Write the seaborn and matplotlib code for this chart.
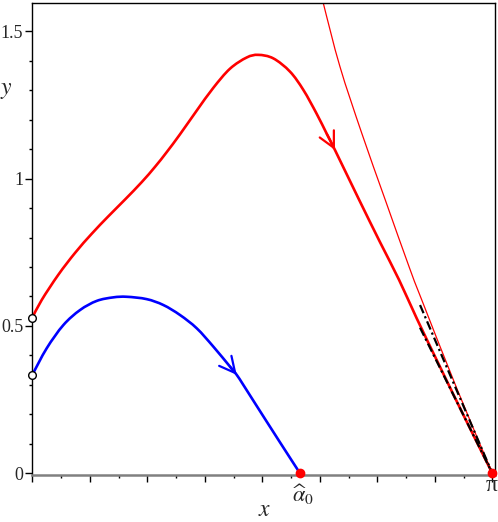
import numpy as np
import pandas as pd
import matplotlib
matplotlib.use("Agg")
import matplotlib.pyplot as plt
from matplotlib.path import Path
from matplotlib.patches import PathPatch
import seaborn as sns

# ---- data ----
blue_x = [0.000, 0.098, 0.212, 0.326, 0.440, 0.553, 0.645, 0.781, 0.895, 1.009,
          1.123, 1.236, 1.350, 1.396, 1.441, 1.528, 1.676, 1.828]
blue_y = [0.334, 0.424, 0.503, 0.554, 0.585, 0.597, 0.599, 0.591, 0.571, 0.537,
          0.492, 0.430, 0.362, 0.334, 0.300, 0.232, 0.117, 0.000]

red_x = [0.000, 0.064, 0.178, 0.292, 0.406, 0.519, 0.633, 0.747, 0.838, 0.918,
         1.008, 1.123, 1.236, 1.350, 1.464, 1.543, 1.646, 1.760, 1.851, 1.942,
         2.011, 2.067, 2.230, 2.374, 2.505, 2.625, 2.800, 2.950, np.pi]
red_y = [0.528, 0.588, 0.674, 0.748, 0.813, 0.872, 0.929, 0.988, 1.040, 1.090,
         1.150, 1.231, 1.308, 1.373, 1.411, 1.420, 1.408, 1.363, 1.301, 1.220,
         1.152, 1.097, 0.930, 0.785, 0.656, 0.526, 0.345, 0.192, 0.000]

thin_x = [1.951, 1.987, 2.101, 2.250, 2.411, 2.573, 2.660, 2.903, np.pi]
thin_y = [1.674, 1.596, 1.380, 1.154, 0.927, 0.701, 0.588, 0.283, 0.000]

black1_x = [2.648, np.pi]
black1_y = [0.571, 0.000]
black2_x = [2.648, np.pi]
black2_y = [0.494, 0.000]

open_x = [0.0, 0.0]
open_y = [0.528, 0.334]
dot_x = [1.828, np.pi]
dot_y = [0.0, 0.0]

# arrow (tail, tip) pairs on curves
blue_arrow = [(1.350, 0.362), (1.396, 0.334)]
red_arrow = [(2.011, 1.152), (2.067, 1.097)]

alpha_label = r"$\widehat{\alpha}_0$"
pi_label = "π"
ytick_vals = [0, 0.5, 1, 1.5]
ytick_labels = ["0", "0.5", "1", "1.5"]

# ---- styling ----
sns.set_style("ticks")
plt.rcParams["font.family"] = ["Liberation Serif", "DejaVu Serif"]
plt.rcParams["mathtext.fontset"] = "stix"

fig = plt.figure(figsize=(4.98, 5.22), dpi=100)
ax = fig.add_axes([0.0649, 0.0891, 0.9291, 0.9046])


def smooth_line(line):
    """Redraw a seaborn Line2D through its own vertices as a smooth
    Catmull-Rom (cubic Bezier) path, in the axes' data coordinates."""
    xy = np.asarray(line.get_xydata(), float)
    n = len(xy)
    verts = [xy[0]]
    codes = [Path.MOVETO]
    for i in range(n - 1):
        p0 = xy[i - 1] if i > 0 else xy[i]
        p1 = xy[i]
        p2 = xy[i + 1]
        p3 = xy[i + 2] if i + 2 < n else xy[i + 1]
        c1 = p1 + (p2 - p0) / 6.0
        c2 = p2 - (p3 - p1) / 6.0
        verts += [c1, c2, p2]
        codes += [Path.CURVE4] * 3
    patch = PathPatch(Path(verts, codes), facecolor="none",
                      edgecolor=line.get_color(), lw=line.get_linewidth(),
                      transform=ax.transData, capstyle="round", joinstyle="round",
                      zorder=line.get_zorder())
    ax.add_patch(patch)
    line.set_visible(False)


df_blue = pd.DataFrame({"x": blue_x, "y": blue_y})
df_red = pd.DataFrame({"x": red_x, "y": red_y})
df_thin = pd.DataFrame({"x": thin_x, "y": thin_y})
df_b1 = pd.DataFrame({"x": black1_x, "y": black1_y})
df_b2 = pd.DataFrame({"x": black2_x, "y": black2_y})

for df, col, lw in [(df_thin, "#ff0000", 0.9), (df_red, "#ff0000", 1.9), (df_blue, "#0000ff", 1.9)]:
    sns.lineplot(data=df, x="x", y="y", sort=False, estimator=None, color=col, lw=lw, ax=ax)
    smooth_line(ax.lines[-1])

dash = (0, (4, 1.5, 1, 1.5))
sns.lineplot(data=df_b1, x="x", y="y", sort=False, estimator=None, color="black", lw=1.6, ax=ax, linestyle=dash)
sns.lineplot(data=df_b2, x="x", y="y", sort=False, estimator=None, color="black", lw=1.6, ax=ax, linestyle=dash)

for (tail, tip), col in [(blue_arrow, "#0000ff"), (red_arrow, "#ff0000")]:
    ax.annotate("", xy=tip, xytext=tail,
                arrowprops=dict(arrowstyle="->,head_length=0.75,head_width=0.38",
                                color=col, lw=1.6, mutation_scale=15,
                                shrinkA=0, shrinkB=0))

ax.plot(open_x, open_y, "o", ms=5.5, mfc="white", mec="black", mew=1.0, clip_on=False, zorder=5)
ax.plot(dot_x, dot_y, "o", ms=6, color="#ff0000", clip_on=False, zorder=6)

ax.set_xlim(0, 3.160)
ax.set_ylim(-0.0075, 1.595)

ax.set_xticks([k * np.pi / 8 for k in range(9)])
ax.set_xticks([k * np.pi / 16 for k in range(1, 16, 2)], minor=True)
ax.set_xticklabels([])
ax.set_yticks(ytick_vals)
ax.set_yticklabels(ytick_labels)
ax.set_yticks([k / 10 for k in range(16) if k % 5 != 0], minor=True)

ax.tick_params(axis="x", which="major", length=5, width=1, color="black", direction="out")
ax.tick_params(axis="x", which="minor", length=2.5, width=1, color="black", direction="out")
ax.tick_params(axis="y", which="major", length=5, width=1, color="black", direction="out",
               labelsize=13, pad=1.5)
ax.tick_params(axis="y", which="minor", length=2.5, width=1, color="black", direction="out")

for s in ["top", "right", "left"]:
    ax.spines[s].set_visible(True)
    ax.spines[s].set_color("black")
    ax.spines[s].set_linewidth(1.0)
ax.spines["bottom"].set_color("#808080")
ax.spines["bottom"].set_linewidth(1.8)

ax.set_xlabel("")
ax.set_ylabel("")
ax.text(1.851, -0.074, alpha_label, fontsize=16, ha="center", va="center", clip_on=False)
ax.text(3.138, -0.040, pi_label, fontsize=17, ha="center", va="center", clip_on=False)
ax.text(1.589, -0.128, r"$x$", fontsize=17, ha="center", va="center", clip_on=False)
ax.text(-0.175, 1.30, r"$y$", fontsize=17, ha="center", va="center", clip_on=False)

fig.savefig("out.png", dpi=100)
